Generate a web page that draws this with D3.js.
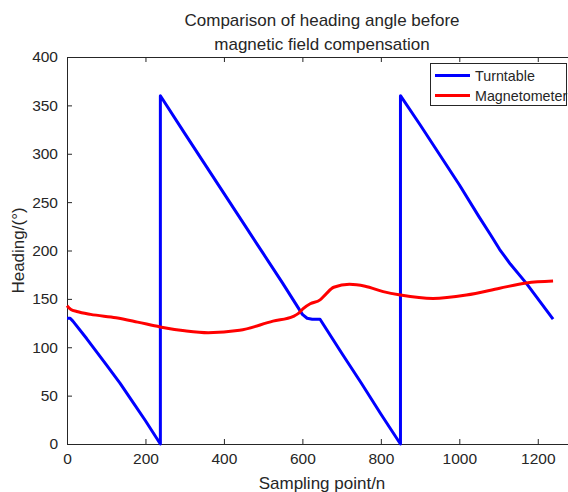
<!DOCTYPE html>
<html>
<head>
<meta charset="utf-8">
<script src="https://cdn.jsdelivr.net/npm/d3@7"></script>
<style>
  body { margin: 0; background: #fff; }
  text { font-family: "Liberation Sans", Arial, sans-serif; fill: #262626; }
</style>
</head>
<body>
<script>
// turntable heading (sawtooth)
var turnX = [0, 8, 15, 50, 100, 135, 170, 200, 238, 238, 300, 350, 400, 450, 500, 550, 600, 612, 625, 645, 700, 750, 800, 850, 850, 900, 950, 1000, 1050, 1080, 1103, 1130, 1171, 1239];
var turnY = [130, 130, 127, 109, 82, 63, 42, 24, 0, 360, 321, 290, 259, 228, 197, 166, 134, 130, 129, 129, 94, 63, 31, 0, 360, 330, 299, 268, 235, 216, 201, 186, 166, 129];

// magnetometer heading
var magX = [0, 10, 25, 60, 125, 180, 237, 300, 360, 440, 525, 577, 590, 602, 620, 645, 660, 680, 720, 760, 806, 850, 933, 1018, 1103, 1171, 1239];
var magY = [143, 139, 137, 134, 130.5, 126, 121, 117, 115, 117.5, 127, 132, 135, 140, 145, 149, 155, 162, 165, 163, 157.5, 154, 150.5, 154, 161, 166.5, 168.5];

var xTicks = [0, 200, 400, 600, 800, 1000, 1200];
var yTicks = [0, 50, 100, 150, 200, 250, 300, 350, 400];
var seriesNames = ["Turntable", "Magnetometer"];
var seriesColors = ["#0000ff", "#ff0000"];

var w = 568, h = 492;
var mLeft = 67, mRight = 577, mTop = 57, mBottom = 444;

var svg = d3.select("body").append("svg")
  .attr("width", w)
  .attr("height", h);

var x = d3.scaleLinear().domain([0, 1300]).range([mLeft, mRight]);
var y = d3.scaleLinear().domain([0, 400]).range([mBottom, mTop]);

// axes
var xAxis = svg.append("g")
  .attr("transform", "translate(0," + mBottom + ")")
  .call(d3.axisBottom(x).tickValues(xTicks).tickSize(-5).tickPadding(9).tickFormat(d3.format("d")));
var xTop = svg.append("g")
  .attr("transform", "translate(0," + mTop + ")")
  .call(d3.axisTop(x).tickValues(xTicks).tickSize(-5).tickFormat(""));
var yAxis = svg.append("g")
  .attr("transform", "translate(" + mLeft + ",0)")
  .call(d3.axisLeft(y).tickValues(yTicks).tickSize(-5).tickPadding(9));

[xAxis, xTop, yAxis].forEach(function(g) {
  g.select(".domain").attr("stroke", "#262626").attr("stroke-width", 1);
  g.selectAll(".tick line").attr("stroke", "#262626");
  g.selectAll(".tick text").attr("font-size", 15.5).attr("fill", "#262626")
    .style("font-family", "'Liberation Sans', Arial, sans-serif");
});

// lines
var turnData = turnX.map(function(d, i) { return [d, turnY[i]]; });
var magData = magX.map(function(d, i) { return [d, magY[i]]; });

svg.append("path")
  .datum(turnData)
  .attr("fill", "none")
  .attr("stroke", seriesColors[0])
  .attr("stroke-width", 3)
  .attr("stroke-linejoin", "round")
  .attr("d", d3.line().x(function(d) { return x(d[0]); }).y(function(d) { return y(d[1]); }));

svg.append("path")
  .datum(magData)
  .attr("fill", "none")
  .attr("stroke", seriesColors[1])
  .attr("stroke-width", 3)
  .attr("d", d3.line().curve(d3.curveMonotoneX).x(function(d) { return x(d[0]); }).y(function(d) { return y(d[1]); }));

// title
svg.append("text")
  .attr("x", (mLeft + mRight) / 2).attr("y", 26)
  .attr("text-anchor", "middle").attr("font-size", 17)
  .text("Comparison of heading angle before");
svg.append("text")
  .attr("x", (mLeft + mRight) / 2).attr("y", 50)
  .attr("text-anchor", "middle").attr("font-size", 17)
  .text("magnetic field compensation");

// axis labels
svg.append("text")
  .attr("x", 322).attr("y", 489)
  .attr("text-anchor", "middle").attr("font-size", 17)
  .text("Sampling point/n");
svg.append("text")
  .attr("transform", "translate(24," + ((mTop + mBottom) / 2) + ") rotate(-90)")
  .attr("text-anchor", "middle").attr("font-size", 17)
  .text("Heading/(°)");

// legend
var lg = svg.append("g");
lg.append("rect")
  .attr("x", 430.5).attr("y", 63.5)
  .attr("width", 136).attr("height", 42)
  .attr("fill", "#fff").attr("stroke", "#262626").attr("stroke-width", 1);
seriesNames.forEach(function(name, i) {
  var ly = 75.5 + i * 20;
  lg.append("line")
    .attr("x1", 435).attr("x2", 470).attr("y1", ly).attr("y2", ly)
    .attr("stroke", seriesColors[i]).attr("stroke-width", 3);
  lg.append("text")
    .attr("x", 475).attr("y", ly + 5)
    .attr("font-size", 14.3)
    .text(name);
});
</script>
</body>
</html>
